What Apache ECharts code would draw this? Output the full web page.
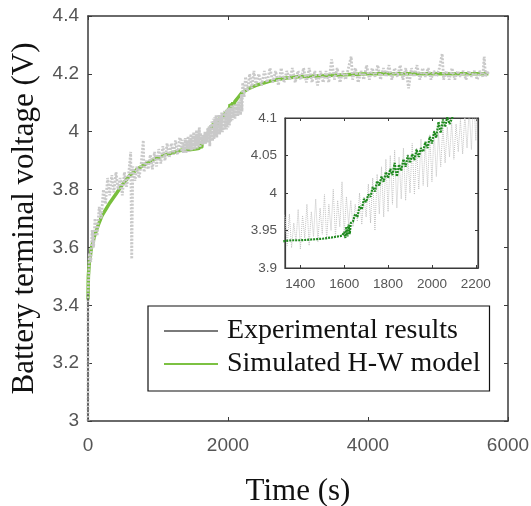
<!DOCTYPE html>
<html>
<head>
<meta charset="utf-8">
<script src="https://cdn.jsdelivr.net/npm/echarts@6/dist/echarts.min.js"></script>
<style>html,body{margin:0;padding:0;background:#fff}#c{width:531px;height:506px}</style>
</head>
<body>
<div id="c"></div>
<script>
// ---- data ----
const seriesNames = ['Experimental results', 'Simulated H-W model'];
const mainXTicks = [0, 2000, 4000, 6000];
const mainYTicks = [3, 3.2, 3.4, 3.6, 3.8, 4, 4.2, 4.4];
const insetXTicks = [1400, 1600, 1800, 2000, 2200];
const insetYTicks = [3.9, 3.95, 4, 4.05, 4.1];

// Experimental terminal voltage [time s, voltage V]
const experimental = [
  [0,3.00],[0,3.44],[10,3.50],[20,3.58],[40,3.55],[60,3.66],[80,3.60],[100,3.70],[130,3.64],[160,3.74],
  [190,3.70],[220,3.80],[250,3.75],[280,3.84],[310,3.78],[340,3.85],[370,3.79],[400,3.86],[430,3.80],[460,3.84],
  [490,3.78],[520,3.86],[550,3.81],[580,3.85],[610,3.93],[625,3.56],[640,3.88],[670,3.83],[700,3.88],[730,3.84],
  [760,3.89],[790,3.97],[800,3.86],[830,3.90],[860,3.87],[890,3.92],[920,3.87],[950,3.93],[980,3.88],[1010,3.94],
  [1040,3.89],[1070,3.95],[1100,3.90],[1130,3.96],[1160,3.91],[1190,3.96],[1220,3.92],[1250,3.97],[1280,3.92],[1310,3.98],
  [1330,3.968],[1340,3.930],[1350,3.972],[1360,3.927],[1370,3.960],[1380,3.935],[1390,3.978],[1400,3.925],[1410,3.970],[1420,3.940],
  [1430,3.985],[1440,3.930],[1450,3.975],[1460,3.942],[1470,3.992],[1480,3.935],[1490,3.980],[1500,3.945],[1510,3.998],[1520,3.938],
  [1530,3.985],[1540,3.950],[1550,4.005],[1560,3.942],[1570,3.990],[1580,3.955],[1590,4.015],[1600,3.945],[1610,3.995],[1620,3.958],
  [1630,3.990],[1640,3.955],[1650,3.985],[1660,3.962],[1670,4.000],[1680,3.958],[1690,3.995],[1700,3.968],[1710,4.012],[1720,3.960],
  [1730,4.020],[1740,3.950],[1750,4.025],[1760,3.972],[1770,4.035],[1780,3.968],[1790,4.045],[1800,3.975],[1810,4.050],[1820,3.985],
  [1830,4.057],[1840,3.980],[1850,4.048],[1860,3.992],[1870,4.060],[1880,3.990],[1890,4.052],[1900,4.000],[1910,4.066],[1920,3.998],
  [1930,4.060],[1940,4.005],[1950,4.072],[1960,4.010],[1970,4.068],[1980,4.008],[1990,4.078],[2000,4.015],[2010,4.084],[2020,4.022],
  [2030,4.080],[2040,4.035],[2050,4.090],[2060,4.040],[2070,4.088],[2080,4.048],[2090,4.094],[2100,4.045],[2110,4.092],[2120,4.055],
  [2130,4.098],[2140,4.052],[2150,4.105],[2160,4.060],[2170,4.112],[2180,4.058],[2190,4.130],[2200,4.070],[2210,4.170],
  [2230,4.12],[2250,4.19],[2280,4.14],[2310,4.20],[2340,4.15],[2370,4.21],[2400,4.16],[2440,4.20],[2480,4.16],[2520,4.21],
  [2560,4.17],[2600,4.22],[2640,4.17],[2680,4.21],[2720,4.16],[2760,4.22],[2800,4.17],[2840,4.21],[2880,4.18],[2920,4.22],
  [2960,4.17],[3000,4.21],[3040,4.18],[3080,4.22],[3120,4.17],[3160,4.22],[3200,4.17],[3240,4.21],[3280,4.16],[3320,4.21],
  [3360,4.17],[3400,4.21],[3440,4.17],[3480,4.25],[3520,4.18],[3560,4.22],[3600,4.17],[3640,4.21],[3680,4.18],[3720,4.22],
  [3760,4.26],[3780,4.18],[3820,4.22],[3860,4.17],[3900,4.21],[3940,4.18],[3980,4.23],[4020,4.18],[4060,4.22],[4100,4.19],
  [4140,4.23],[4180,4.18],[4220,4.22],[4260,4.19],[4300,4.23],[4340,4.18],[4380,4.22],[4420,4.19],[4460,4.23],[4500,4.18],
  [4540,4.22],[4580,4.15],[4620,4.22],[4660,4.19],[4700,4.23],[4740,4.18],[4780,4.22],[4820,4.19],[4860,4.22],[4900,4.18],
  [4940,4.21],[4980,4.19],[5020,4.22],[5060,4.27],[5080,4.18],[5120,4.21],[5160,4.18],[5200,4.22],[5240,4.18],[5280,4.21],
  [5320,4.19],[5360,4.21],[5400,4.18],[5440,4.21],[5480,4.19],[5520,4.21],[5560,4.18],[5600,4.21],[5640,4.19],[5660,4.26],
  [5680,4.19],[5700,4.21],[5720,4.20]
];

// Simulated H-W model voltage [time s, voltage V]
const simulated = [
  [0,3.42],[5,3.50],[20,3.55],[50,3.60],[100,3.645],[150,3.68],[200,3.71],[300,3.75],[400,3.785],[500,3.82],
  [600,3.85],[700,3.87],[800,3.885],[900,3.90],[1000,3.91],[1100,3.92],[1200,3.927],[1300,3.934],
  [1330,3.936],[1360,3.937],[1400,3.937],[1450,3.938],[1500,3.939],[1550,3.941],[1590,3.943],[1600,3.948],[1605,3.940],[1610,3.955],
  [1615,3.942],[1620,3.958],[1625,3.945],[1630,3.960],[1640,3.962],[1650,3.972],[1660,3.968],[1670,3.982],[1680,3.978],[1690,3.992],
  [1700,3.988],[1710,3.998],[1720,3.995],[1730,4.008],[1740,4.002],[1750,4.016],[1760,4.010],[1770,4.022],[1780,4.015],[1790,4.028],
  [1800,4.020],[1810,4.032],[1820,4.024],[1830,4.040],[1840,4.022],[1850,4.038],[1860,4.030],[1870,4.045],[1880,4.035],[1890,4.050],
  [1900,4.040],[1910,4.052],[1920,4.044],[1930,4.058],[1940,4.048],[1950,4.060],[1960,4.055],[1970,4.068],[1980,4.060],[1990,4.075],
  [2000,4.066],[2010,4.082],[2020,4.074],[2030,4.095],[2040,4.080],[2050,4.098],[2060,4.088],[2070,4.102],[2080,4.092],[2100,4.105],
  [2150,4.12],[2200,4.135],[2300,4.15],[2400,4.16],[2600,4.175],[2800,4.185],[3000,4.19],[3500,4.195],[4000,4.20],[4500,4.20],
  [5000,4.20],[5500,4.20],[5720,4.20]
];

// ---- chart ----
const chart = echarts.init(document.getElementById('c'), null, {renderer: 'canvas'});
const sans = 'Liberation Sans';
const serif = 'Liberation Serif';
const axisCol = '#3a3a3a';
const tickFmt = (ticks) => (v) => ticks.some(t => Math.abs(t - v) < 1e-6) ? String(+v.toFixed(2)) : '';

function mkAxis(o) {
  return Object.assign({
    type: 'value',
    axisLine: {show: true, onZero: false, lineStyle: {color: axisCol, width: 1.5}},
    axisTick: {show: true, inside: true, length: 4, lineStyle: {color: axisCol, width: 1}},
    splitLine: {show: false},
    axisLabel: {show: false}
  }, o);
}

const option = {
  backgroundColor: '#fff',
  animation: false,
  grid: [
    {left: 88, right: 23, top: 16, bottom: 85, show: false, containLabel: false, outerBoundsMode: 'none'},
    {left: 285, right: 53, top: 118, bottom: 238, show: true, backgroundColor: '#fff', borderColor: axisCol, borderWidth: 1.2, z: 5,
      containLabel: false, outerBoundsMode: 'none'}
  ],
  xAxis: [
    mkAxis({gridIndex: 0, position: 'bottom', min: 0, max: 6000, interval: 2000,
      axisLabel: {show: true, margin: 15, color: '#555', fontFamily: sans, fontSize: 19, formatter: tickFmt(mainXTicks)},
      name: 'Time (s)', nameLocation: 'middle', nameGap: 55,
      nameTextStyle: {fontFamily: serif, fontSize: 31, color: '#111'}}),
    mkAxis({gridIndex: 0, position: 'top', min: 0, max: 6000, interval: 2000}),
    mkAxis({gridIndex: 1, position: 'bottom', min: 1330, max: 2210, splitNumber: 4, minInterval: 200, maxInterval: 200, z: 6,
      axisLine: {show: true, onZero: false, lineStyle: {color: axisCol, width: 1.2}},
      axisTick: {show: true, inside: true, length: 3, lineStyle: {color: axisCol}},
      axisLabel: {show: true, margin: 9, color: '#555', fontFamily: sans, fontSize: 13.5, formatter: tickFmt(insetXTicks)}}),
    mkAxis({gridIndex: 1, position: 'top', min: 1330, max: 2210, splitNumber: 4, minInterval: 200, maxInterval: 200, z: 6,
      axisLine: {show: true, onZero: false, lineStyle: {color: axisCol, width: 1.2}},
      axisTick: {show: true, inside: true, length: 3, lineStyle: {color: axisCol}}})
  ],
  yAxis: [
    mkAxis({gridIndex: 0, position: 'left', min: 3, max: 4.4, interval: 0.2,
      axisLabel: {show: true, margin: 9, color: '#555', fontFamily: sans, fontSize: 19, formatter: tickFmt(mainYTicks)},
      name: 'Battery terminal voltage (V)', nameLocation: 'middle', nameGap: 48,
      nameTextStyle: {fontFamily: serif, fontSize: 31, color: '#111'}}),
    mkAxis({gridIndex: 0, position: 'right', min: 3, max: 4.4, interval: 0.2}),
    mkAxis({gridIndex: 1, position: 'left', min: 3.9, max: 4.1, interval: 0.05, z: 6,
      axisLine: {show: true, onZero: false, lineStyle: {color: axisCol, width: 1.2}},
      axisTick: {show: true, inside: true, length: 3, lineStyle: {color: axisCol}},
      axisLabel: {show: true, margin: 8, color: '#555', fontFamily: sans, fontSize: 13.5, formatter: tickFmt(insetYTicks)}}),
    mkAxis({gridIndex: 1, position: 'right', min: 3.9, max: 4.1, interval: 0.05, z: 6,
      axisLine: {show: true, onZero: false, lineStyle: {color: axisCol, width: 1.2}},
      axisTick: {show: true, inside: true, length: 3, lineStyle: {color: axisCol}}})
  ],
  legend: {
    left: 148, top: 306, orient: 'vertical',
    padding: [11, 9, 13, 16], itemGap: 5, itemWidth: 54, itemHeight: 2,
    borderColor: '#111', borderWidth: 1.2, backgroundColor: '#fff',
    textStyle: {fontFamily: serif, fontSize: 28, color: '#111', lineHeight: 28, padding: [0, 0, 0, 4]},
    data: [
      {name: seriesNames[0], icon: 'rect', itemStyle: {color: '#7a7a7a', borderWidth: 0}},
      {name: seriesNames[1], icon: 'rect', itemStyle: {color: '#7cc142', borderWidth: 0}}
    ]
  },
  series: [
    {name: seriesNames[1], type: 'line', xAxisIndex: 0, yAxisIndex: 0, data: simulated, showSymbol: false, z: 2,
      color: '#7cc142', lineStyle: {color: '#78bf3c', width: 3.5}},
    {name: seriesNames[0], type: 'line', xAxisIndex: 0, yAxisIndex: 0, data: experimental, showSymbol: false, z: 3,
      color: '#c8c8c8', lineStyle: {color: '#c9c9c9', width: 2.8, type: [2, 1.5]}},
    {name: 'start', type: 'line', xAxisIndex: 0, yAxisIndex: 0, data: experimental.slice(0, 2), showSymbol: false, z: 3,
      lineStyle: {color: '#555', width: 1.2, type: [3, 2]}},
    {name: seriesNames[0], type: 'line', xAxisIndex: 2, yAxisIndex: 2, data: experimental, showSymbol: false, z: 6,
      lineStyle: {color: '#c2c2c2', width: 1, type: 'dotted'}},
    {name: seriesNames[1], type: 'line', xAxisIndex: 2, yAxisIndex: 2, data: simulated, showSymbol: false, z: 7,
      lineStyle: {color: '#1f8a1f', width: 2.2, type: [2, 1]}}
  ]
};
chart.setOption(option);
</script>
</body>
</html>
